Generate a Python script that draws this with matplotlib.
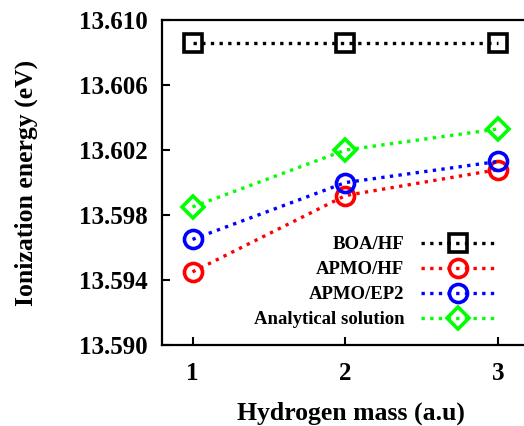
import matplotlib
matplotlib.use("Agg")
import matplotlib.pyplot as plt

plt.rcParams['font.family'] = ['Liberation Serif', 'DejaVu Serif']
plt.rcParams['font.weight'] = 'bold'

masses = [1, 2, 3]
boa_hf = [13.6086, 13.6086, 13.6086]
apmo_hf = [13.5945, 13.5992, 13.6008]
apmo_ep2 = [13.5965, 13.6000, 13.6013]
analytical = [13.5985, 13.6020, 13.6033]
yticks = [13.590, 13.594, 13.598, 13.602, 13.606, 13.610]

fig = plt.figure(figsize=(5.24, 4.26), dpi=100)
ax = fig.add_axes([0.309, 0.190, 0.721, 0.763])

style = dict(linestyle=(0, (1, 1.6)), linewidth=2.4, markersize=13,
             markeredgewidth=2.6, fillstyle='none')
ax.plot(masses, boa_hf, color='black', marker='s', label='BOA/HF', **style)
ax.plot(masses, apmo_hf, color='#ff0000', marker='o', label='APMO/HF', **style)
ax.plot(masses, apmo_ep2, color='#0000ff', marker='o', label='APMO/EP2', **style)
ax.plot(masses, analytical, color='#00ff00', marker='D', label='Analytical solution',
        **dict(style, markersize=11))

ax.set_xlim(0.8, 3.27)
ax.set_ylim(13.590, 13.610)
ax.set_xticks(masses)
ax.set_yticks(yticks)
ax.set_yticklabels([f'{v:.3f}' for v in yticks])
ax.tick_params(direction='in', length=6, width=1.5, labelsize=18, pad=10)
ax.tick_params(axis='x', pad=12)
ax.spines['right'].set_visible(False)
for s in ax.spines.values():
    s.set_linewidth(1.6)

ax.set_xlabel('Hydrogen mass (a.u)', fontsize=18.5, fontweight='bold', labelpad=12)
ax.set_ylabel('Ionization energy (eV)', fontsize=18.5, fontweight='bold', labelpad=30)

leg = ax.legend(loc='lower right', bbox_to_anchor=(0.925, 0.0), frameon=False,
                markerfirst=False, fontsize=13.5, handlelength=3.9,
                labelspacing=0.42, handletextpad=0.9)

fig.savefig('out.png', dpi=100)
